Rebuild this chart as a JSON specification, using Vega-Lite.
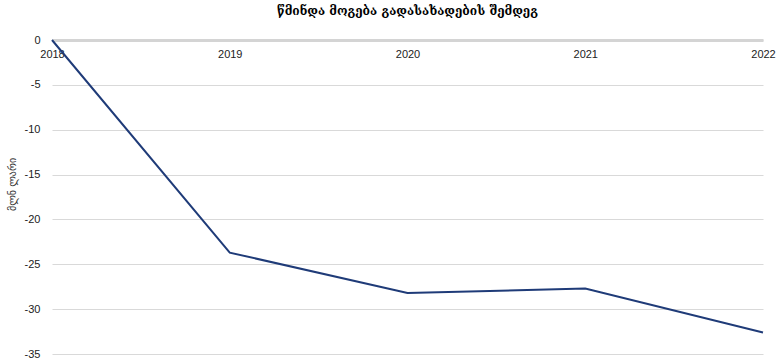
{
  "$schema": "https://vega.github.io/schema/vega-lite/v6.json",
  "width": 711,
  "height": 314,
  "autosize": {"type": "none"},
  "padding": {"left": 52, "top": 40, "right": 17, "bottom": 8},
  "background": "white",
  "title": {
    "text": "წმინდა მოგება გადასახადების შემდეგ",
    "font": "DejaVu Serif",
    "fontSize": 12,
    "fontWeight": "bold",
    "color": "#000000",
    "anchor": "middle",
    "offset": 16
  },
  "data": {
    "values": [
      {"year": "2018", "value": 0},
      {"year": "2019", "value": -23.7},
      {"year": "2020", "value": -28.2},
      {"year": "2021", "value": -27.7},
      {"year": "2022", "value": -32.6}
    ]
  },
  "config": {
    "view": {"stroke": null},
    "axis": {"labelFont": "Liberation Sans", "labelFontSize": 11, "labelColor": "#222222"}
  },
  "mark": {"type": "line", "color": "#1f3b78", "strokeWidth": 2},
  "encoding": {
    "x": {
      "field": "year",
      "type": "ordinal",
      "scale": {"type": "point", "padding": 0},
      "axis": {
        "orient": "bottom",
        "offset": -314,
        "title": null,
        "labelAngle": 0,
        "ticks": false,
        "domain": true,
        "domainColor": "#d4d4d4",
        "domainWidth": 3,
        "labelPadding": 8,
        "grid": false
      }
    },
    "y": {
      "field": "value",
      "type": "quantitative",
      "scale": {"domain": [-35, 0], "nice": false},
      "axis": {
        "values": [0, -5, -10, -15, -20, -25, -30, -35],
        "labelExpr": "datum.value == 0 ? '0' : '-' + abs(datum.value)",
        "title": "მლნ ლარი",
        "titleFont": "DejaVu Sans",
        "titleFontSize": 10,
        "titleFontWeight": "normal",
        "titleColor": "#333333",
        "titleX": -40,
        "titleY": 144,
        "titleAngle": -90,
        "titleBaseline": "middle",
        "ticks": false,
        "domain": false,
        "labelPadding": 12,
        "grid": true,
        "gridColor": "#d9d9d9",
        "gridWidth": 1
      }
    }
  }
}
